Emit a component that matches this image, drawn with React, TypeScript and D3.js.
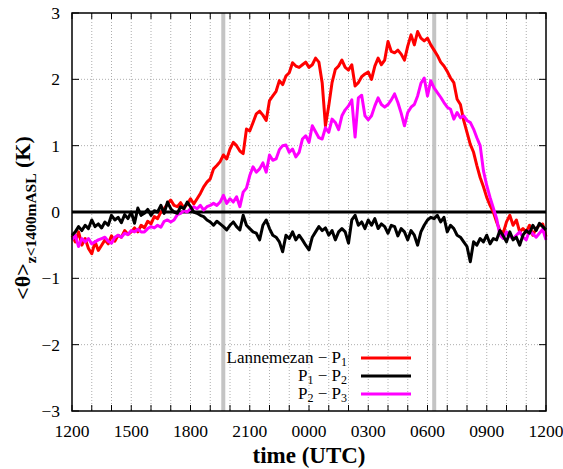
import React from "react";
import * as d3 from "d3";

// hours after 1200 UTC, 10-minute resolution (145 points)
const redVals = [
  -0.35, -0.45, -0.3, -0.5, -0.4, -0.55, -0.63, -0.45, -0.58, -0.5,
  -0.42, -0.48, -0.36, -0.44, -0.35, -0.38, -0.28, -0.34, -0.3, -0.24,
  -0.3, -0.2, -0.24, -0.14, -0.18, -0.07, -0.1, 0.0, 0.05, 0.12,
  0.18, 0.1, 0.08, 0.14, 0.06, 0.12, 0.2, 0.12, 0.2, 0.28,
  0.38, 0.45, 0.5, 0.65, 0.7, 0.76, 0.86, 0.8, 0.95, 1.05,
  1.0, 0.92, 0.88, 1.25, 1.22, 1.35, 1.48, 1.52, 1.46, 1.38,
  1.68, 1.75, 1.82, 1.98, 1.92, 2.05, 2.1, 2.25, 2.2, 2.18,
  2.22, 2.26, 2.18, 2.22, 2.32, 2.26, 1.95, 1.3, 1.6, 1.95,
  2.15, 2.2, 2.29, 2.18, 2.14, 2.22, 1.9, 1.95, 2.04, 2.08,
  2.11, 2.0, 2.2, 2.32, 2.22, 2.29, 2.57, 2.42, 2.4, 2.44,
  2.38, 2.29, 2.5, 2.67, 2.52, 2.72, 2.62, 2.58, 2.62, 2.52,
  2.44, 2.36, 2.26, 2.2, 2.12, 2.02, 1.95, 1.7, 1.62, 1.38,
  1.2, 1.02, 0.9, 0.7, 0.52, 0.38, 0.22, 0.1, 0.0, -0.15,
  -0.28, -0.32, -0.15, -0.05, -0.2, -0.12, -0.3, -0.25, -0.3, -0.2,
  -0.35, -0.25, -0.2, -0.18, -0.37,
];
const blackVals = [
  -0.35, -0.3, -0.22, -0.28, -0.2, -0.25, -0.12, -0.22, -0.18, -0.24,
  -0.15, -0.2, -0.05, -0.12, -0.08, -0.16, -0.04, -0.1, 0.0, -0.17,
  0.06, -0.05, -0.02, 0.04, -0.05, 0.02, 0.0, 0.1, -0.02, 0.15,
  0.05, 0.0, -0.02, 0.08, 0.05, 0.15, 0.08, 0.0, -0.02, -0.05,
  -0.07, -0.12, -0.15, -0.2, -0.14, -0.18, -0.22, -0.27, -0.2, -0.15,
  -0.22, -0.27, -0.05, -0.2, -0.25, -0.3, -0.32, -0.42, -0.2, -0.12,
  -0.25, -0.35, -0.38, -0.45, -0.6, -0.35, -0.4, -0.3, -0.42, -0.35,
  -0.42, -0.5, -0.57, -0.38, -0.3, -0.22, -0.28, -0.24, -0.35, -0.28,
  -0.42, -0.3, -0.25, -0.3, -0.47, -0.12, -0.05, -0.2, -0.15, -0.25,
  -0.12, -0.2, -0.1, -0.25, -0.18, -0.22, -0.32, -0.2, -0.22, -0.36,
  -0.25, -0.3, -0.42, -0.28, -0.35, -0.5, -0.3, -0.2, -0.12, -0.08,
  -0.1, -0.05, -0.15, -0.08, -0.3, -0.2, -0.25, -0.35, -0.38, -0.45,
  -0.52, -0.75, -0.45, -0.5, -0.4, -0.45, -0.35, -0.48, -0.4, -0.42,
  -0.28, -0.36, -0.45, -0.3, -0.42, -0.38, -0.5, -0.35, -0.28, -0.32,
  -0.2, -0.28, -0.17, -0.22, -0.27,
];
const magentaVals = [
  -0.42, -0.35, -0.52, -0.4, -0.45, -0.4, -0.48, -0.45, -0.42, -0.4,
  -0.38, -0.44, -0.47, -0.38, -0.35, -0.38, -0.32, -0.34, -0.28, -0.3,
  -0.26, -0.3, -0.3, -0.25, -0.22, -0.24, -0.2, -0.23, -0.14, -0.12,
  -0.15, -0.12, -0.04, -0.02, 0.02, 0.0, 0.05, 0.08, 0.05, 0.1,
  0.03, 0.08, 0.1, 0.13, 0.1, 0.15, 0.25, 0.13, 0.2, 0.15,
  0.23, 0.08, 0.3, 0.36, 0.55, 0.68, 0.6, 0.65, 0.74, 0.6,
  0.86, 0.78, 0.8, 0.94, 1.0, 1.01, 0.9, 0.95, 0.83, 0.9,
  1.1, 1.15, 1.05, 1.3, 1.21, 1.12, 1.1, 1.27, 1.2, 1.4,
  1.35, 1.24, 1.45, 1.54, 1.6, 1.69, 1.13, 1.72, 1.76, 1.45,
  1.39, 1.45, 1.6, 1.72, 1.62, 1.58, 1.62, 1.69, 1.78, 1.65,
  1.49, 1.3, 1.5, 1.58, 1.62, 1.75, 1.94, 2.02, 1.75, 1.98,
  1.87, 1.8, 1.73, 1.65, 1.58, 1.55, 1.4, 1.5, 1.42, 1.45,
  1.38, 1.35, 1.25, 1.12, 1.0, 0.62, 0.4, 0.22, 0.06, -0.1,
  -0.35, -0.4, -0.3, -0.37, -0.4, -0.35, -0.3, -0.38, -0.42, -0.28,
  -0.33, -0.38, -0.32, -0.26, -0.42,
];
const xTickLabels = ["1200", "1500", "1800", "2100", "0000", "0300", "0600", "0900", "1200"];
const yTicks = [-3, -2, -1, 0, 1, 2, 3];
const grayBars = [7.66, 18.34]; // hours after 1200 UTC

const W = 563, H = 469;
const L = 72, R = 546, T = 13, B = 411;
const serif = "'Liberation Serif', 'Times New Roman', Times, serif";

export default function App() {
  const x = d3.scaleLinear().domain([0, 24]).range([L, R]);
  const y = d3.scaleLinear().domain([-3, 3]).range([B, T]);
  const step = 1 / 6;
  const line = d3
    .line<number>()
    .x((_, i) => x(i * step))
    .y((d) => y(d));
  const hours = d3.range(0, 25);
  const fmt = (v: number) => (v < 0 ? "\u2212" + Math.abs(v) : String(v));

  const series = [
    { vals: redVals, color: "#ff0000" },
    { vals: magentaVals, color: "#ff00ff" },
    { vals: blackVals, color: "#000000" },
  ];
  const legend = [
    { main: "Lannemezan \u2212 P", sub1: "1", rest: "", sub2: "", color: "#ff0000" },
    { main: "P", sub1: "1", rest: " \u2212 P", sub2: "2", color: "#000000" },
    { main: "P", sub1: "2", rest: " \u2212 P", sub2: "3", color: "#ff00ff" },
  ];

  return (
    <svg width={W} height={H} style={{ position: "absolute", left: 0, top: 0, fontFamily: serif }}>
      <rect width={W} height={H} fill="#fff" />
      {/* grid */}
      {hours.slice(1, -1).map((h) => (
        <line key={"vg" + h} x1={x(h)} x2={x(h)} y1={T} y2={B} stroke="#999" strokeWidth={0.8} strokeDasharray="1,2" />
      ))}
      {yTicks.slice(1, -1).map((v) => (
        <line key={"hg" + v} x1={L} x2={R} y1={y(v)} y2={y(v)} stroke="#999" strokeWidth={0.8} strokeDasharray="1,2" />
      ))}
      {/* gray bars */}
      {grayBars.map((h) => (
        <rect key={"gb" + h} x={x(h) - 2} y={T} width={4} height={B - T} fill="#c4c4c4" />
      ))}
      {/* zero line */}
      <line x1={L} x2={R} y1={y(0)} y2={y(0)} stroke="#000" strokeWidth={2.8} />
      {/* series */}
      {series.map((s, k) => (
        <path key={"s" + k} d={line(s.vals) || ""} fill="none" stroke={s.color} strokeWidth={3} strokeLinejoin="round" />
      ))}
      {/* frame */}
      <rect x={L} y={T} width={R - L} height={B - T} fill="none" stroke="#000" strokeWidth={1.5} />
      {/* ticks */}
      {hours.map((h) => (
        <g key={"xt" + h}>
          <line x1={x(h)} x2={x(h)} y1={B} y2={B - 6} stroke="#000" strokeWidth={1} />
          <line x1={x(h)} x2={x(h)} y1={T} y2={T + 6} stroke="#000" strokeWidth={1} />
        </g>
      ))}
      {yTicks.map((v) => (
        <g key={"yt" + v}>
          <line x1={L} x2={L + 7} y1={y(v)} y2={y(v)} stroke="#000" strokeWidth={1} />
          <line x1={R} x2={R - 7} y1={y(v)} y2={y(v)} stroke="#000" strokeWidth={1} />
          <text x={L - 12} y={y(v) + 6} textAnchor="end" fontSize={17.5} fontFamily={serif}>{fmt(v)}</text>
        </g>
      ))}
      {xTickLabels.map((t, i) => (
        <text key={"xl" + i} x={x(i * 3)} y={437} textAnchor="middle" fontSize={17.5} fontFamily={serif}>{t}</text>
      ))}
      {/* axis titles */}
      <text x={x(12)} y={463} textAnchor="middle" fontSize={23} fontWeight="bold" fontFamily={serif}>time (UTC)</text>
      <text transform={`translate(30,${y(0) + 6}) rotate(-90)`} textAnchor="middle" fontWeight="bold" fontSize={22} fontFamily={serif}>
        <tspan>{"<\u03b8>"}</tspan>
        <tspan fontSize={15.5} dy={6}>z&lt;1400mASL</tspan>
        <tspan dy={-6}>{" (K)"}</tspan>
      </text>
      {/* legend */}
      {legend.map((l, i) => {
        const yy = 358 + i * 18;
        return (
          <g key={"lg" + i}>
            <text x={347} y={yy + 5} textAnchor="end" fontSize={17} fontFamily={serif}>
              <tspan>{l.main}</tspan>
              <tspan fontSize={12} dy={3}>{l.sub1}</tspan>
              {l.rest ? <tspan dy={-3}>{l.rest}</tspan> : null}
              {l.sub2 ? <tspan fontSize={12} dy={3}>{l.sub2}</tspan> : null}
            </text>
            <line x1={361} x2={411} y1={yy} y2={yy} stroke={l.color} strokeWidth={2.8} />
          </g>
        );
      })}
    </svg>
  );
}
